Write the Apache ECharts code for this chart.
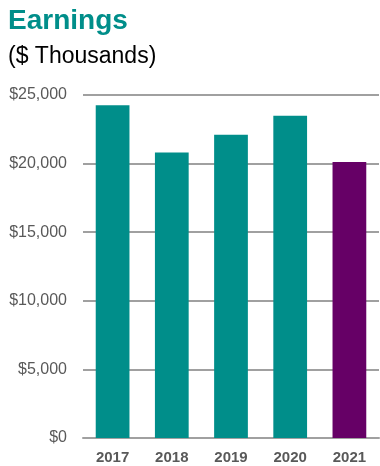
<!DOCTYPE html>
<html>
<head>
<meta charset="utf-8">
<script src="https://cdn.jsdelivr.net/npm/echarts@6/dist/echarts.min.js"></script>
<style>
  html, body { margin: 0; padding: 0; background: #fff; }
  #chart { width: 380px; height: 466px; }
</style>
</head>
<body>
<div id="chart"></div>
<script>
const years = ['2017', '2018', '2019', '2020', '2021'];
const earnings = [24250, 20800, 22100, 23480, 20120];
const barColors = ['#008e8a', '#008e8a', '#008e8a', '#008e8a', '#660066'];

const chart = echarts.init(document.getElementById('chart'));

chart.setOption({
  animation: false,
  title: [
    {
      text: 'Earnings',
      left: 3,
      top: 2,
      textStyle: { fontFamily: 'Liberation Sans', fontSize: 28, fontWeight: 'bold', color: '#008e8a' }
    },
    {
      text: '($ Thousands)',
      left: 3,
      top: 40,
      textStyle: { fontFamily: 'Liberation Sans', fontSize: 23, fontWeight: 'normal', color: '#000' }
    }
  ],
  grid: { left: 83, right: 1, top: 95, bottom: 28 },
  xAxis: {
    type: 'category',
    data: years,
    axisLine: { lineStyle: { color: '#a0a0a0', width: 2 } },
    axisTick: { show: false },
    axisLabel: { fontFamily: 'Liberation Sans', fontSize: 15, fontWeight: 'bold', color: '#595959', margin: 12 }
  },
  yAxis: {
    type: 'value',
    min: 0,
    max: 25000,
    interval: 5000,
    axisLine: { show: false },
    axisTick: { show: false },
    splitLine: { lineStyle: { color: '#a0a0a0', width: 2 } },
    axisLabel: {
      fontFamily: 'Liberation Sans',
      fontSize: 16,
      color: '#595959',
      margin: 16,
      formatter: v => '$' + v.toLocaleString('en-US')
    }
  },
  series: [{
    type: 'bar',
    barWidth: '57%',
    data: earnings.map((v, i) => ({ value: v, itemStyle: { color: barColors[i] } }))
  }]
});
</script>
</body>
</html>
